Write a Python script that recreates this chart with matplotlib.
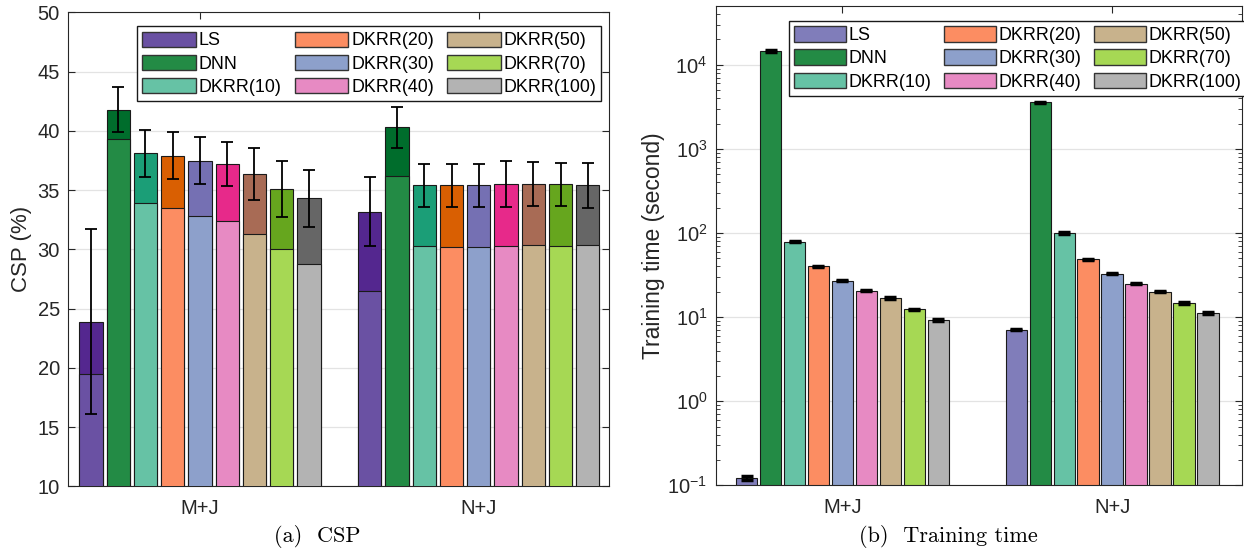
import numpy as np
import matplotlib.pyplot as plt
from matplotlib.patches import Patch

# data
groups = ['M+J', 'N+J']
methods = ['LS', 'DNN', 'DKRR(10)', 'DKRR(20)', 'DKRR(30)', 'DKRR(40)',
           'DKRR(50)', 'DKRR(70)', 'DKRR(100)']

# CSP (%): lower (light) part, total (dark top) and std for each method
csp_low_mj = [19.5, 39.3, 33.9, 33.5, 32.8, 32.4, 31.3, 30.0, 28.8]
csp_top_mj = [23.9, 41.8, 38.1, 37.9, 37.5, 37.2, 36.4, 35.1, 34.3]
csp_std_mj = [7.8, 1.9, 1.95, 1.98, 2.02, 1.85, 2.2, 2.35, 2.4]
csp_low_nj = [26.5, 36.2, 30.3, 30.2, 30.2, 30.3, 30.4, 30.3, 30.4]
csp_top_nj = [33.2, 40.3, 35.4, 35.4, 35.4, 35.5, 35.5, 35.5, 35.4]
csp_std_nj = [2.95, 1.7, 1.83, 1.78, 1.8, 1.92, 1.85, 1.83, 1.89]

# training time (second)
time_mj = [0.122, 14500, 79, 40, 27, 20.7, 16.8, 12.4, 9.2]
time_nj = [7.06, 3560, 100, 48.5, 32.7, 24.9, 20.0, 14.8, 11.2]
time_std_mj = [0.006, 400, 1.2, 0.6, 0.5, 0.3, 0.3, 0.2, 0.2]
time_std_nj = [0.12, 90, 1.5, 0.8, 0.5, 0.4, 0.3, 0.3, 0.4]

light = ['#6a51a3', '#238b45', '#66c2a5', '#fc8d62', '#8da0cb', '#e78ac3',
         '#c8b28c', '#a6d854', '#b3b3b3']
dark = ['#54278f', '#006d2c', '#1b9e77', '#d95f02', '#7570b3', '#e7298a',
        '#a86b55', '#66a61e', '#666666']
light_time = ['#807dba'] + light[1:]

plt.rcParams['font.family'] = ['Liberation Sans', 'DejaVu Sans']
plt.rcParams['mathtext.fontset'] = 'custom'
plt.rcParams['mathtext.rm'] = 'Liberation Sans'
axcol = '#262626'

fig = plt.figure(figsize=(12.44, 5.53), dpi=100)
ax1 = fig.add_axes([0.0549, 0.1203, 0.4349, 0.8573])
ax2 = fig.add_axes([0.5753, 0.1224, 0.4229, 0.8668])

centers = np.array([1, 2])
n = len(methods)

# ---- (a) CSP ----
sp1, w1 = 0.0977, 0.0836
low = np.array([csp_low_mj, csp_low_nj])
top = np.array([csp_top_mj, csp_top_nj])
std = np.array([csp_std_mj, csp_std_nj])
for i in range(n):
    x = centers + (i - (n - 1) / 2) * sp1
    ax1.bar(x, top[:, i], w1, color=dark[i], edgecolor='#1a1a1a', lw=0.8, zorder=2)
    ax1.bar(x, low[:, i], w1, color=light[i], edgecolor='#1a1a1a', lw=0.8, zorder=3)
    ax1.errorbar(x, top[:, i], yerr=std[:, i], fmt='none', ecolor='k',
                 elinewidth=1.3, capsize=4.5, capthick=1.3, zorder=4)
ax1.set_ylim(10, 50)
ax1.set_yticks(np.arange(10, 51, 5))
ax1.set_xlim(0.528, 2.468)
ax1.set_ylabel('CSP (%)', fontsize=16, color=axcol, labelpad=4)

# ---- (b) Training time ----
sp2, w2 = 0.0889, 0.08
tt = np.array([time_mj, time_nj])
ts = np.array([time_std_mj, time_std_nj])
for i in range(n):
    x = centers + (i - (n - 1) / 2) * sp2
    ax2.bar(x, tt[:, i], w2, color=light_time[i], edgecolor='#1a1a1a', lw=0.8, zorder=2)
    ax2.errorbar(x, tt[:, i], yerr=ts[:, i], fmt='none', ecolor='k',
                 elinewidth=1.5, capsize=4.5, capthick=2.5, zorder=4)
ax2.set_yscale('log')
ax2.set_ylim(0.1, 5e4)
ax2.set_xlim(0.53, 2.48)
ax2.set_yticks([1e-1, 1e0, 1e1, 1e2, 1e3, 1e4])
ax2.set_yticklabels(['$10^{-1}$', '$10^{0}$', '$10^{1}$', '$10^{2}$', '$10^{3}$', '$10^{4}$'])
ax2.set_ylabel('Training time (second)', fontsize=16.5, color=axcol, labelpad=2)

for ax in (ax1, ax2):
    ax.set_xticks(centers)
    ax.set_xticklabels(groups)
    ax.grid(axis='y', color='#e3e3e3', lw=0.9, zorder=0)
    ax.set_axisbelow(True)
    ax.tick_params(direction='in', top=True, right=True, labelsize=14.5,
                   colors=axcol, length=5, pad=6)
    ax.tick_params(axis='x', pad=9)
    ax.tick_params(which='minor', direction='in', right=True, length=3, colors=axcol)
    for s in ax.spines.values():
        s.set_color(axcol)
        s.set_linewidth(0.8)

ax1.legend([Patch(facecolor=c, edgecolor='#333333') for c in light], methods,
           ncol=3, loc='upper left', bbox_to_anchor=(0.127, 0.971),
           fontsize=12.9, frameon=True, fancybox=False, edgecolor='#1a1a1a',
           framealpha=1, handlelength=3.0, handleheight=0.95, handletextpad=0.15,
           columnspacing=0.72, labelspacing=0.3, borderpad=0.3, borderaxespad=0)
ax2.legend([Patch(facecolor=c, edgecolor='#333333') for c in light_time], methods,
           ncol=3, loc='upper left', bbox_to_anchor=(0.139, 0.969),
           fontsize=12.9, frameon=True, fancybox=False, edgecolor='#1a1a1a',
           framealpha=1, handlelength=2.9, handleheight=0.95, handletextpad=0.15,
           columnspacing=0.7, labelspacing=0.3, borderpad=0.3, borderaxespad=0)

fig.text(317 / 1244, 1 - 536 / 553, '(a)  CSP', family='cmr10', fontsize=16,
         ha='center', va='center')
fig.text(948 / 1244, 1 - 536 / 553, '(b)  Training time', family='cmr10', fontsize=16,
         ha='center', va='center')

fig.savefig('out.png', dpi=100)
